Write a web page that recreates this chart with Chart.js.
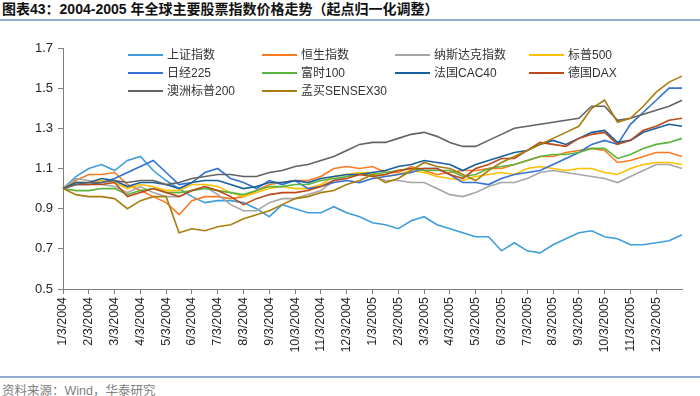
<!DOCTYPE html>
<html>
<head>
<meta charset="utf-8">
<script src="https://cdn.jsdelivr.net/npm/chart.js@4.4.1/dist/chart.umd.min.js"></script>
<style>
  body { margin: 0; background: #fff; }
  #wrap { position: relative; width: 700px; height: 396px; overflow: hidden; font-family: "Liberation Sans", "Noto Sans CJK SC", sans-serif; }
  #title { position: absolute; left: 2px; top: 0px; font-size: 14px; line-height: 19px; font-weight: bold; color: #111; white-space: nowrap; }
  #topline { position: absolute; left: 0; top: 19px; width: 700px; height: 2px; background: #93add0; }
  #botline { position: absolute; left: 0; top: 376px; width: 700px; height: 2px; background: #93add0; }
  #source { position: absolute; left: 2px; top: 380px; font-size: 12.5px; color: #808080; white-space: nowrap; }
  #chartbox { position: absolute; left: 0; top: 30px; width: 700px; height: 340px; }
  #legend { position: absolute; left: 0; top: 0; }
  .item { position: absolute; height: 14px; font-size: 12px; color: #333; white-space: nowrap; line-height: 14px; }
  .item i { display: inline-block; width: 35px; height: 2px; vertical-align: middle; margin-right: 4px; position: relative; top: -1px; }
</style>
</head>
<body>
<div id="wrap">
  <div id="title">图表43：2004-2005 年全球主要股票指数价格走势（起点归一化调整）</div>
  <div id="topline"></div>
  <div id="chartbox"><canvas id="chart" width="700" height="340"></canvas></div>
  <div id="legend"></div>
  <div id="botline"></div>
  <div id="source">资料来源：Wind，华泰研究</div>
</div>
<script>
// 半月采样，数值读自原图（起点归一化）
const dates = [
  "1/3/2004", "1/18/2004", "2/3/2004", "2/18/2004", "3/3/2004", "3/18/2004", "4/3/2004", "4/18/2004",
  "5/3/2004", "5/18/2004", "6/3/2004", "6/18/2004", "7/3/2004", "7/18/2004", "8/3/2004", "8/18/2004",
  "9/3/2004", "9/18/2004", "10/3/2004", "10/18/2004", "11/3/2004", "11/18/2004", "12/3/2004", "12/18/2004",
  "1/3/2005", "1/18/2005", "2/3/2005", "2/18/2005", "3/3/2005", "3/18/2005", "4/3/2005", "4/18/2005",
  "5/3/2005", "5/18/2005", "6/3/2005", "6/18/2005", "7/3/2005", "7/18/2005", "8/3/2005", "8/18/2005",
  "9/3/2005", "9/18/2005", "10/3/2005", "10/18/2005", "11/3/2005", "11/18/2005", "12/3/2005", "12/18/2005",
  "12/31/2005"
];

const shanghai = [1.00,1.06,1.10,1.12,1.09,1.14,1.16,1.09,1.04,1.00, 0.96,0.93,0.94,0.94,0.93,0.90,0.86,0.92,0.90,0.88,
  0.88,0.91,0.88,0.86,0.83,0.82,0.80,0.84,0.86,0.82, 0.80,0.78,0.76,0.76,0.69,0.73,0.69,0.68,0.72,0.75,
  0.78,0.79,0.76,0.75,0.72,0.72,0.73,0.74,0.77];
const hangseng = [1.00,1.04,1.07,1.07,1.08,1.02,0.99,0.96,0.93,0.87, 0.94,0.96,0.96,0.95,0.96,0.99,1.02,1.03,1.04,1.04,
  1.06,1.10,1.11,1.10,1.11,1.08,1.08,1.11,1.09,1.07, 1.08,1.09,1.09,1.10,1.10,1.12,1.14,1.16,1.16,1.18,
  1.19,1.20,1.19,1.13,1.14,1.16,1.18,1.18,1.16];
const nasdaq = [1.00,1.05,1.04,1.02,1.01,0.98,1.01,0.98,0.96,0.96, 0.99,1.01,0.97,0.92,0.89,0.89,0.93,0.95,0.95,0.97,
  0.99,1.04,1.06,1.08,1.06,1.04,1.04,1.03,1.03,1.00, 0.97,0.96,0.98,1.01,1.03,1.03,1.05,1.08,1.09,1.08,
  1.07,1.06,1.05,1.03,1.06,1.09,1.12,1.12,1.10];
const sp500 = [1.00,1.03,1.03,1.04,1.03,1.00,1.02,1.01,0.99,0.99, 1.02,1.02,1.01,0.98,0.96,0.98,1.00,1.01,1.00,1.00,
  1.02,1.06,1.07,1.08,1.08,1.06,1.07,1.09,1.08,1.06, 1.05,1.04,1.06,1.07,1.08,1.07,1.10,1.11,1.10,1.09,
  1.10,1.10,1.08,1.07,1.10,1.12,1.13,1.13,1.12];
const nikkei = [1.00,1.02,1.02,1.03,1.05,1.08,1.11,1.14,1.08,1.02, 1.03,1.08,1.10,1.05,1.03,1.00,1.04,1.02,1.04,1.00,
  1.01,1.03,1.04,1.03,1.05,1.06,1.07,1.08,1.10,1.10, 1.07,1.03,1.03,1.02,1.05,1.07,1.08,1.09,1.12,1.15,
  1.18,1.22,1.24,1.22,1.32,1.38,1.44,1.50,1.50];
const ftse = [1.00,0.99,0.99,1.00,1.00,0.97,0.99,1.00,0.98,0.98, 0.99,1.00,0.99,0.98,0.97,0.99,1.01,1.01,1.02,1.02,
  1.04,1.05,1.06,1.07,1.07,1.08,1.09,1.10,1.09,1.09, 1.09,1.06,1.07,1.10,1.11,1.12,1.14,1.16,1.17,1.17,
  1.18,1.20,1.20,1.15,1.17,1.20,1.22,1.23,1.25];
const cac = [1.00,1.03,1.03,1.05,1.04,1.01,1.03,1.03,1.02,1.00, 1.03,1.04,1.04,1.02,1.00,1.01,1.03,1.03,1.04,1.03,
  1.05,1.06,1.07,1.07,1.08,1.09,1.11,1.12,1.14,1.13, 1.12,1.09,1.12,1.14,1.16,1.18,1.19,1.22,1.24,1.22,
  1.25,1.28,1.29,1.23,1.24,1.28,1.30,1.32,1.31];
const dax = [1.00,1.02,1.02,1.02,1.03,0.96,0.98,1.00,0.98,0.96, 0.99,1.01,0.99,0.96,0.92,0.95,0.97,0.98,0.98,0.99,
  1.01,1.04,1.05,1.07,1.06,1.07,1.09,1.10,1.10,1.10, 1.07,1.05,1.10,1.12,1.15,1.15,1.19,1.23,1.22,1.21,
  1.25,1.27,1.28,1.22,1.24,1.29,1.31,1.34,1.35];
const asx = [1.00,1.02,1.03,1.03,1.04,1.03,1.04,1.04,1.02,1.03, 1.05,1.06,1.07,1.07,1.06,1.06,1.08,1.09,1.11,1.12,
  1.14,1.16,1.19,1.22,1.23,1.23,1.25,1.27,1.28,1.26, 1.23,1.21,1.21,1.24,1.27,1.30,1.31,1.32,1.33,1.34,
  1.35,1.41,1.41,1.34,1.35,1.37,1.39,1.41,1.44];
const sensex = [1.00,0.97,0.96,0.96,0.95,0.90,0.94,0.96,0.96,0.78, 0.80,0.79,0.81,0.82,0.85,0.87,0.89,0.92,0.95,0.96,
  0.98,0.99,1.02,1.04,1.07,1.03,1.05,1.09,1.13,1.11, 1.10,1.07,1.04,1.09,1.13,1.16,1.19,1.22,1.25,1.28,
  1.31,1.40,1.44,1.33,1.35,1.41,1.48,1.53,1.56];

const seriesNames = ["上证指数", "恒生指数", "纳斯达克指数", "标普500", "日经225", "富时100", "法国CAC40", "德国DAX", "澳洲标普200", "孟买SENSEX30"];
const seriesData = [shanghai, hangseng, nasdaq, sp500, nikkei, ftse, cac, dax, asx, sensex];
const seriesColors = ["#3d9edb", "#fb7a22", "#a6a6a6", "#ffc000", "#3570d4", "#5ab43e", "#17609c", "#bb4a1a", "#626262", "#a97d0e"];

// 图例：4列网格
const legend = document.getElementById("legend");
seriesNames.forEach((name, i) => {
  const div = document.createElement("div");
  div.className = "item";
  div.style.left = [128, 262, 395, 529][i % 4] + "px";
  div.style.top = [48, 66, 84][Math.floor(i / 4)] + "px";
  div.innerHTML = `<i style="background:${seriesColors[i]}"></i>${name}`;
  legend.appendChild(div);
});

const isMonthTick = (idx) => /^\d+\/3\//.test(dates[idx]);

new Chart(document.getElementById("chart").getContext("2d"), {
  type: "line",
  data: {
    labels: dates,
    datasets: seriesNames.map((name, i) => ({
      label: name,
      data: seriesData[i],
      borderColor: seriesColors[i],
      backgroundColor: seriesColors[i],
      borderWidth: 1.6,
      pointRadius: 0,
      tension: 0,
      order: seriesNames.length - i,
    })),
  },
  options: {
    responsive: false,
    animation: false,
    devicePixelRatio: 1,
    layout: { padding: { left: 0, right: 3, top: 18, bottom: 0 } },
    plugins: { legend: { display: false }, tooltip: { enabled: false } },
    scales: {
      x: {
        afterFit: (s) => { s.height = 81; },
        grid: {
          drawOnChartArea: false,
          tickLength: 5,
          tickColor: (ctx) => (isMonthTick(ctx.index) ? "#7f7f7f" : "rgba(0,0,0,0)"),
        },
        border: { color: "#7f7f7f", width: 1 },
        ticks: {
          autoSkip: false,
          maxRotation: 90,
          minRotation: 90,
          padding: 3,
          color: "#262626",
          font: { family: "Liberation Sans", size: 12.5 },
          callback: function (v, idx) { return isMonthTick(idx) ? dates[idx] : ""; },
        },
      },
      y: {
        min: 0.5,
        max: 1.7,
        afterFit: (s) => { s.width = 63; },
        grid: { drawOnChartArea: false, tickLength: 5, tickColor: "#7f7f7f" },
        border: { color: "#7f7f7f", width: 1 },
        ticks: {
          stepSize: 0.2,
          padding: 5,
          color: "#262626",
          font: { family: "Liberation Sans", size: 13 },
          callback: (v) => v.toFixed(1),
        },
      },
    },
  },
});
</script>
</body>
</html>
